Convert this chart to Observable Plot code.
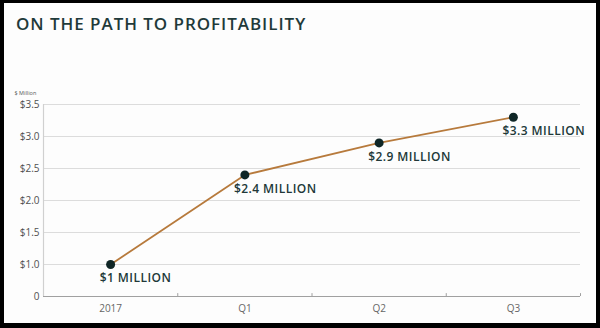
<!DOCTYPE html>
<html><head><meta charset="utf-8">
<script src="https://cdn.jsdelivr.net/npm/d3@7"></script>
<script src="https://cdn.jsdelivr.net/npm/@observablehq/plot@0.6"></script>
<style>
html,body{margin:0;padding:0;background:#000;width:600px;height:328px;overflow:hidden;}
#card{position:absolute;left:4px;top:3px;width:592px;height:320px;background:#fdfdfd;}
#title{position:absolute;left:12px;top:9px;font-family:"Open Sans",sans-serif;font-weight:600;font-size:17px;color:#1f3a3a;letter-spacing:0.95px;white-space:nowrap;}
#chart{position:absolute;left:0;top:40px;}
#chart svg .lbl text{letter-spacing:0.45px;}
</style></head>
<body>
<div id="card"><div id="title">ON THE PATH TO PROFITABILITY</div><div id="chart"></div></div>
<script>
const periods = ["2017", "Q1", "Q2", "Q3"];
const revenue = [1.0, 2.4, 2.9, 3.3];
const pointLabels = ["$1 MILLION", "$2.4 MILLION", "$2.9 MILLION", "$3.3 MILLION"];
const yTicks = [0.5, 1.0, 1.5, 2.0, 2.5, 3.0, 3.5];
const yTickLabels = ["0", "$1.0", "$1.5", "$2.0", "$2.5", "$3.0", "$3.5"];
const gridValues = [1.0, 1.5, 2.0, 2.5, 3.0, 3.5];

const data = periods.map((p, i) => ({i, period: p, value: revenue[i], label: pointLabels[i]}));
const boundaries = periods.map((p, i) => i + 0.5);
const font = '"Open Sans", sans-serif';

const chart = Plot.plot({
  width: 592,
  height: 280,
  marginTop: 61,
  marginBottom: 27,
  marginLeft: 39,
  marginRight: 16,
  style: {fontFamily: font, background: "transparent", color: "#555"},
  x: {domain: [-0.5, periods.length - 0.5]},
  y: {domain: [yTicks[0], yTicks[yTicks.length - 1]]},
  marks: [
    Plot.ruleY(gridValues, {stroke: "#dcdcdc", strokeWidth: 1.2}),
    Plot.ruleX([-0.5], {stroke: "#d0d0d0", strokeWidth: 1.2}),
    Plot.ruleY([yTicks[0]], {stroke: "#a0a0a0", strokeWidth: 1.2}),
    Plot.ruleX(boundaries, {x: d => d, y1: yTicks[0], y2: yTicks[0] + 0.045, stroke: "#a0a0a0", strokeWidth: 1}),
    Plot.axisY({ticks: yTicks, tickSize: 0, tickPadding: 4, tickFormat: d => yTickLabels[yTicks.indexOf(d)], fontSize: 10, label: null, fill: "#505050"}),
    Plot.axisX({ticks: d3.range(periods.length), tickSize: 0, tickPadding: 8, tickFormat: d => periods[d], fontSize: 10, label: null, fill: "#666"}),
    Plot.text(["$ Million"], {frameAnchor: "top-left", dx: -29, dy: -13, fontSize: 5.5, fill: "#555"}),
    Plot.line(data, {x: "i", y: "value", stroke: "#b77a3c", strokeWidth: 1.8}),
    Plot.dot(data, {x: "i", y: "value", r: 4.5, fill: "#0f2626", stroke: "none"}),
    Plot.text(data, {x: "i", y: "value", text: "label", textAnchor: "start", dx: -11, dy: 14, fontSize: 12, fontWeight: 600, fill: "#213838", className: "lbl"})
  ]
});
document.getElementById("chart").appendChild(chart);
</script>
</body></html>
